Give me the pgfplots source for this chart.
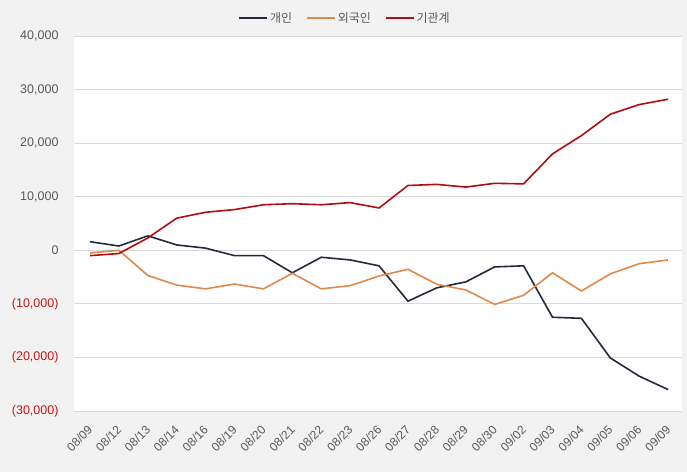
\documentclass[border=0pt]{standalone}
\usepackage{pgfplots}
\pgfplotsset{compat=1.18}
\usepackage{fontspec}
\setmainfont{Liberation Sans}
\newfontfamily\kr{Noto Sans CJK KR}
\definecolor{bg}{HTML}{F2F2F2}
\definecolor{gridc}{HTML}{D9D9D9}
\definecolor{lbl}{HTML}{595959}
\definecolor{negc}{HTML}{CC1111}
\definecolor{c1}{HTML}{232A3B}
\definecolor{c2}{HTML}{E0894A}
\definecolor{c3}{HTML}{B00D12}
\begin{document}
\begin{tikzpicture}
\fill[bg] (0pt,0pt) rectangle (687pt,472pt);
\useasboundingbox (0pt,0pt) rectangle (687pt,472pt);
\begin{axis}[
  at={(74pt,61pt)}, anchor=south west,
  scale only axis, width=608pt, height=375pt,
  axis background/.style={fill=white},
  xmin=-0.554, xmax=20.48,
  ymin=-30000, ymax=40000,
  scaled y ticks=false,
  axis line style={draw=none},
  major tick length=0pt,
  ytick={-30000,-20000,-10000,0,10000,20000,30000,40000},
  yticklabels={{\textcolor{negc}{(30,000)}},{\textcolor{negc}{(20,000)}},{\textcolor{negc}{(10,000)}},{0},{10,000},{20,000},{30,000},{40,000}},
  ymajorgrids, grid style={gridc, line width=0.8pt},
  xtick={0,...,20},
  xticklabels={08/09,08/12,08/13,08/14,08/16,08/19,08/20,08/21,08/22,08/23,08/26,08/27,08/28,08/29,08/30,09/02,09/03,09/04,09/05,09/06,09/09},
  xticklabel style={xshift=-3pt, yshift=-9pt, rotate=45, anchor=north east, font=\fontsize{12}{14}\selectfont, text=lbl},
  yticklabel style={font=\fontsize{12.5}{14}\selectfont, text=lbl, xshift=-12pt},
  legend style={at={(0.446,1.048)}, anchor=center, draw=none, fill=none, font=\kr\fontsize{12}{14}\selectfont, text=lbl, legend columns=-1, /tikz/every even column/.append style={column sep=12pt}},
  legend image code/.code={\draw[#1] (0pt,0pt) -- (28pt,0pt);},
  every axis plot/.append style={line width=1.6pt, mark=none},
]
\addplot[c1] coordinates {(0,1600)(1,800)(2,2700)(3,1000)(4,400)(5,-1000)(6,-1000)(7,-4200)(8,-1300)(9,-1800)(10,-2900)(11,-9500)(12,-7000)(13,-5900)(14,-3100)(15,-2900)(16,-12500)(17,-12700)(18,-20100)(19,-23500)(20,-26000)};
\addlegendentry{개인}
\addplot[c2] coordinates {(0,-500)(1,0)(2,-4700)(3,-6500)(4,-7200)(5,-6300)(6,-7200)(7,-4300)(8,-7200)(9,-6600)(10,-4800)(11,-3550)(12,-6350)(13,-7400)(14,-10100)(15,-8400)(16,-4200)(17,-7600)(18,-4400)(19,-2500)(20,-1800)};
\addlegendentry{외국인}
\addplot[c3] coordinates {(0,-1000)(1,-600)(2,2300)(3,6000)(4,7100)(5,7600)(6,8500)(7,8700)(8,8500)(9,8900)(10,7900)(11,12100)(12,12300)(13,11800)(14,12500)(15,12400)(16,18000)(17,21400)(18,25400)(19,27200)(20,28200)};
\addlegendentry{기관계}
\end{axis}
\end{tikzpicture}
\end{document}
